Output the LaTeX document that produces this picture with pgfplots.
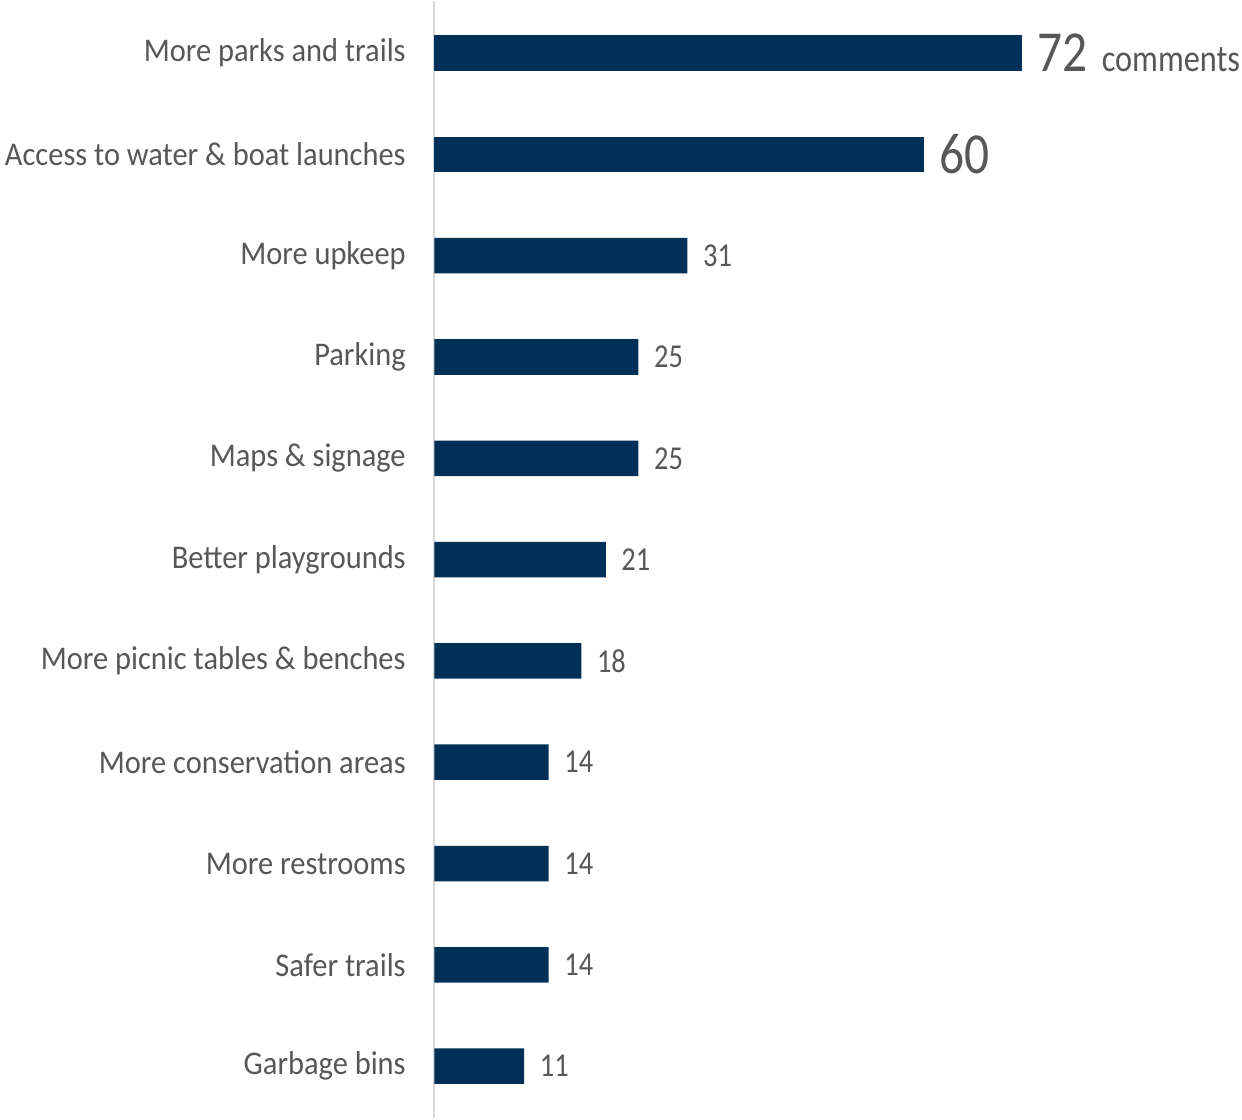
\documentclass[border={0.5mm 0mm 0.2mm 0mm}]{standalone}
\usepackage{pgfplots}
\pgfplotsset{compat=1.18}
\usepackage{fontspec}
\setmainfont{Carlito}[FakeStretch=0.85]
\newfontfamily\labelfont{Carlito}[FakeStretch=0.92]
\definecolor{barblue}{HTML}{003057}
\definecolor{txtgrey}{HTML}{575757}
\definecolor{axgrey}{HTML}{D9D9D9}
\begin{document}
\begin{tikzpicture}
\begin{axis}[
  scale only axis,
  width=58.7mm, height=111.6mm,
  xmin=0, xmax=72, ymin=0.486, ymax=11.514,
  xbar, bar width=3.55mm,
  axis x line=none,
  axis y line*=left,
  axis line style={draw=axgrey, line width=0.2mm},
  /pgf/number format/assume math mode=true,
  ytick={1,...,11},
  yticklabels={Garbage bins, Safer trails, More restrooms, More conservation areas, More picnic tables \& benches, Better playgrounds, Maps \& signage, Parking, More upkeep, Access to water \& boat launches, More parks and trails},
  major tick length=0pt,
  yticklabel style={anchor=east, inner sep=0pt, xshift=-2.8mm, font=\labelfont\fontsize{9.4pt}{10pt}\selectfont, text=txtgrey},
  nodes near coords,
  nodes near coords style={anchor=west, inner sep=0pt, xshift=1.5mm, text=txtgrey},
  clip=false,
]
\addplot[fill=barblue, draw=none, bar shift=0pt,
  nodes near coords={\fontsize{16.5pt}{17pt}\selectfont\pgfmathprintnumber[assume math mode=true]{\pgfplotspointmeta}\hspace{1.4mm}{\fontsize{10.8pt}{11pt}\selectfont comments}}]
  coordinates {(72,11)};
\addplot[fill=barblue, draw=none, bar shift=0pt,
  nodes near coords={\pgfmathprintnumber[assume math mode=true]{\pgfplotspointmeta}},
  nodes near coords style={font=\fontsize{16.5pt}{17pt}\selectfont}]
  coordinates {(60,10)};
\addplot[fill=barblue, draw=none, bar shift=0pt,
  nodes near coords={\pgfmathprintnumber[assume math mode=true]{\pgfplotspointmeta}},
  nodes near coords style={font=\fontsize{9.5pt}{10pt}\selectfont}]
  coordinates {(31,9) (25,8) (25,7) (21,6) (18,5) (14,4) (14,3) (14,2) (11,1)};
\end{axis}
\end{tikzpicture}
\end{document}
